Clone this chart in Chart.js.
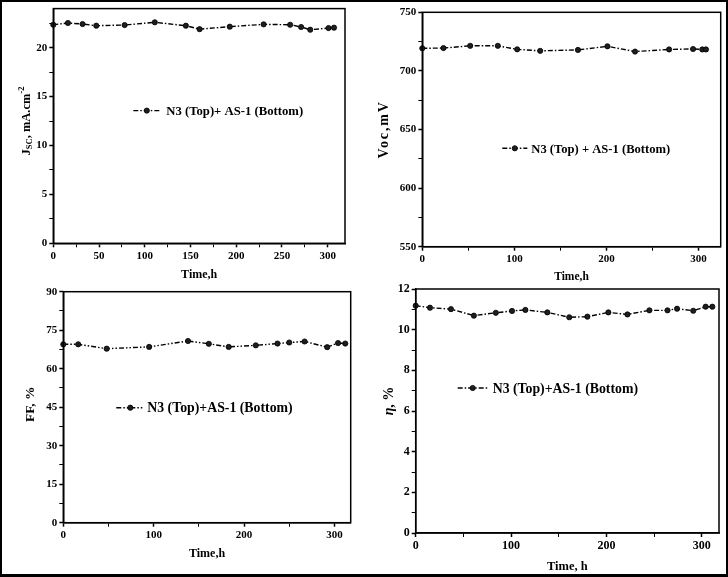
<!DOCTYPE html>
<html><head><meta charset="utf-8">
<script src="https://cdn.jsdelivr.net/npm/chart.js@4.4.0/dist/chart.umd.min.js"></script>
<style>
html,body{margin:0;padding:0;background:#fff;}
#page{position:relative;width:728px;height:577px;overflow:hidden;background:#fff;}
#frame{position:absolute;left:0;top:0;width:728px;height:577px;box-sizing:border-box;border:2px solid #000;border-bottom-width:3px;pointer-events:none;z-index:5}
canvas{position:absolute;}
</style></head><body>
<div id="page">
<canvas id="c1"></canvas>
<canvas id="c2"></canvas>
<canvas id="c3"></canvas>
<canvas id="c4"></canvas>
<div id="frame"></div>
</div>
<script>
// ---------- data ----------
const jscTime  = [0, 16, 32, 47, 78, 111, 145, 160, 193, 230, 259, 271, 281, 301, 307];
const jscValue = [22.35, 22.53, 22.42, 22.25, 22.32, 22.6, 22.25, 21.9, 22.15, 22.39, 22.35, 22.12, 21.84, 22.01, 22.05];
const vocTime  = [0, 23, 52, 82, 103, 128, 169, 201, 231, 268, 294, 304, 308];
const vocValue = [719.3, 719.5, 721.4, 721.4, 718.4, 717.1, 717.9, 721.0, 716.5, 718.3, 718.7, 718.3, 718.3];
const ffTime   = [0, 16.5, 48, 95, 138, 161, 183, 213, 237, 250, 267, 292, 304, 312];
const ffValue  = [69.5, 69.5, 67.8, 68.5, 70.8, 69.7, 68.5, 69.1, 69.8, 70.2, 70.6, 68.4, 70.0, 69.8];
const etaTime  = [0, 15, 37, 61, 84, 101, 115, 138, 161, 180, 202, 222, 245, 264, 274, 291, 304, 311];
const etaValue = [11.18, 11.08, 11.01, 10.69, 10.83, 10.92, 10.97, 10.85, 10.61, 10.64, 10.85, 10.75, 10.95, 10.95, 11.03, 10.93, 11.13, 11.13];

const jscXTicks = [0, 50, 100, 150, 200, 250, 300];
const jscYTicks = [0, 5, 10, 15, 20];
const vocXTicks = [0, 100, 200, 300];
const vocYTicks = [550, 600, 650, 700, 750];
const ffXTicks  = [0, 100, 200, 300];
const ffYTicks  = [0, 15, 30, 45, 60, 75, 90];
const etaXTicks = [0, 100, 200, 300];
const etaYTicks = [0, 2, 4, 6, 8, 10, 12];

const legendJsc = 'N3 (Top)+ AS-1 (Bottom)';
const legendVoc = 'N3 (Top) + AS-1 (Bottom)';
const legendFF  = 'N3 (Top)+AS-1 (Bottom)';
const legendEta = 'N3 (Top)+AS-1 (Bottom)';

// ---------- helpers ----------
const FAMILY = '"Liberation Serif", "Times New Roman", serif';
const isIn = (arr, v) => arr.some(m => Math.abs(m - v) < 1e-6);

const framePlugin = {
  id: 'frameBox',
  afterDatasetsDraw(chart) {
    const a = chart.chartArea, ctx = chart.ctx;
    ctx.save();
    ctx.strokeStyle = '#000';
    ctx.lineWidth = 1.5;
    ctx.setLineDash([]);
    ctx.strokeRect(a.left, a.top, a.right - a.left, a.bottom - a.top);
    ctx.restore();
  }
};

function drawSegments(ctx, segs, cx, cy, spacing) {
  let total = 0;
  const widths = segs.map(s => {
    ctx.font = (s.italic ? 'italic ' : '') + 'bold ' + s.size + 'px ' + FAMILY;
    ctx.letterSpacing = (spacing || 0) + 'px';
    const w = ctx.measureText(s.text).width;
    total += w;
    return w;
  });
  let x = cx - total / 2;
  segs.forEach((s, i) => {
    ctx.font = (s.italic ? 'italic ' : '') + 'bold ' + s.size + 'px ' + FAMILY;
    ctx.letterSpacing = (spacing || 0) + 'px';
    ctx.fillText(s.text, x, cy + (s.dy || 0));
    x += widths[i];
  });
  ctx.letterSpacing = '0px';
}

const titlePlugin = {
  id: 'axisTitles',
  afterDraw(chart, args, opts) {
    const a = chart.chartArea, ctx = chart.ctx;
    ctx.save();
    ctx.fillStyle = '#000';
    ctx.textAlign = 'left';
    ctx.textBaseline = 'middle';
    drawSegments(ctx, opts.x.segments, (a.left + a.right) / 2 + (opts.x.shift || 0), a.bottom + opts.x.offset, opts.x.spacing);
    ctx.translate(a.left - opts.y.offset, (a.top + a.bottom) / 2 + (opts.y.shift || 0));
    ctx.rotate(-Math.PI / 2);
    drawSegments(ctx, opts.y.segments, 0, 0, opts.y.spacing);
    ctx.restore();
  }
};

const legendPlugin = {
  id: 'innerLegend',
  afterDraw(chart, args, opts) {
    const a = chart.chartArea, ctx = chart.ctx;
    const ds = chart.data.datasets[0];
    const x0 = a.left + opts.dx, y = a.top + opts.dy;
    ctx.save();
    ctx.strokeStyle = '#000';
    ctx.lineWidth = ds.borderWidth;
    ctx.setLineDash(ds.borderDash);
    ctx.beginPath();
    ctx.moveTo(x0, y);
    ctx.lineTo(x0 + opts.len, y);
    ctx.stroke();
    ctx.setLineDash([]);
    ctx.beginPath();
    ctx.arc(x0 + opts.len / 2, y, ds.pointRadius, 0, Math.PI * 2);
    ctx.fillStyle = ds.pointBackgroundColor;
    ctx.fill();
    ctx.lineWidth = ds.pointBorderWidth;
    ctx.stroke();
    ctx.fillStyle = '#000';
    ctx.font = 'bold ' + opts.size + 'px ' + FAMILY;
    ctx.textAlign = 'left';
    ctx.textBaseline = 'middle';
    ctx.fillText(ds.label, x0 + opts.len + opts.gap, y + 1);
    ctx.restore();
  }
};

function makeChart(id, c) {
  const cv = document.getElementById(id);
  cv.width = c.box.w; cv.height = c.box.h;
  cv.style.left = c.box.x + 'px'; cv.style.top = c.box.y + 'px';
  cv.style.width = c.box.w + 'px'; cv.style.height = c.box.h + 'px';
  const tickFont = { family: FAMILY, size: c.tickSize, weight: 'bold' };
  const axis = (majors, min, max, step, fitFn) => ({
    type: 'linear', min: min, max: max,
    ticks: {
      stepSize: step, includeBounds: false, autoSkip: false, maxRotation: 0,
      color: '#000', font: tickFont, padding: 2,
      callback: v => isIn(majors, v) ? String(v) : ''
    },
    grid: {
      drawOnChartArea: false, tickLength: 4, color: '#000',
      tickColor: '#000',
      tickWidth: ctx => (ctx.tick && isIn(majors, ctx.tick.value)) ? 1.5 : 1
    },
    border: { display: true, color: '#000', width: 1.5 },
    afterFit: fitFn
  });
  return new Chart(cv, {
    type: 'line',
    data: {
      datasets: [{
        label: c.label,
        data: c.time.map((t, i) => ({ x: t, y: c.value[i] })),
        borderColor: '#000', borderWidth: 1.4, borderDash: c.dash,
        pointRadius: 2.6, pointBackgroundColor: '#1e1e1e', pointBorderColor: '#000', pointBorderWidth: 0.8,
        tension: 0, fill: false, clip: false
      }]
    },
    options: {
      responsive: false, animation: false, maintainAspectRatio: false,
      layout: { padding: { top: c.plot.t - c.box.y, right: c.box.x + c.box.w - c.plot.r, left: 0, bottom: 0 } },
      events: [],
      plugins: {
        legend: { display: false }, tooltip: { enabled: false },
        axisTitles: c.titles,
        innerLegend: c.legend
      },
      scales: {
        x: axis(c.xMajor, c.xMin, c.xMax, c.xStep, s => { s.height = c.box.y + c.box.h - c.plot.b; }),
        y: axis(c.yMajor, c.yMin, c.yMax, c.yStep, s => { s.width = c.plot.l - c.box.x; })
      }
    },
    plugins: [framePlugin, titlePlugin, legendPlugin]
  });
}

makeChart('c1', {
  box: { x: 0, y: 0, w: 364, h: 290 }, plot: { l: 53.3, t: 8.3, r: 345, b: 243.3 },
  time: jscTime, value: jscValue, label: legendJsc, dash: [5, 2, 1.5, 2],
  xMin: 0, xMax: 319, xStep: 25, xMajor: jscXTicks,
  yMin: 0, yMax: 24, yStep: 2.5, yMajor: jscYTicks, tickSize: 11,
  titles: {
    x: { segments: [{ text: 'Time,h', size: 12 }], offset: 32 },
    y: { segments: [{ text: 'J', size: 12.5 }, { text: 'SC', size: 8.5, dy: 3 }, { text: ', mA.cm', size: 12.5 }, { text: '-2', size: 8.5, dy: -5 }], offset: 27, shift: -5 }
  },
  legend: { dx: 80, dy: 102, len: 27, gap: 6, size: 12.7 }
});

makeChart('c2', {
  box: { x: 364, y: 0, w: 364, h: 290 }, plot: { l: 422.3, t: 12.3, r: 720.7, b: 246.7 },
  time: vocTime, value: vocValue, label: legendVoc, dash: [5, 2, 1.5, 2],
  xMin: 0, xMax: 324, xStep: 50, xMajor: vocXTicks,
  yMin: 550, yMax: 750, yStep: 25, yMajor: vocYTicks, tickSize: 11,
  titles: {
    x: { segments: [{ text: 'Time,h', size: 11.5 }], offset: 30 },
    y: { segments: [{ text: 'Voc,mV', size: 14 }], offset: 38, shift: 0, spacing: 1.8 }
  },
  legend: { dx: 80, dy: 136, len: 25, gap: 4, size: 12.6 }
});

makeChart('c3', {
  box: { x: 0, y: 278, w: 364, h: 299 }, plot: { l: 63.3, t: 291.7, r: 350.7, b: 522.7 },
  time: ffTime, value: ffValue, label: legendFF, dash: [5, 2, 1.5, 2, 1.5, 2],
  xMin: 0, xMax: 318, xStep: 50, xMajor: ffXTicks,
  yMin: 0, yMax: 90, yStep: 7.5, yMajor: ffYTicks, tickSize: 11,
  titles: {
    x: { segments: [{ text: 'Time,h', size: 12 }], offset: 31.6 },
    y: { segments: [{ text: 'FF, %', size: 13.5 }], offset: 32.5, shift: -3 }
  },
  legend: { dx: 53, dy: 116, len: 28, gap: 3, size: 13.8 }
});

makeChart('c4', {
  box: { x: 364, y: 278, w: 364, h: 299 }, plot: { l: 415.7, t: 289, r: 719, b: 533 },
  time: etaTime, value: etaValue, label: legendEta, dash: [5, 2, 1.5, 2],
  xMin: 0, xMax: 318, xStep: 50, xMajor: etaXTicks,
  yMin: 0, yMax: 12, yStep: 1, yMajor: etaYTicks, tickSize: 12,
  titles: {
    x: { segments: [{ text: 'Time, h', size: 12.5 }], offset: 34 },
    y: { segments: [{ text: 'η', size: 14, italic: true }, { text: ', %', size: 14 }], offset: 26, shift: -10 }
  },
  legend: { dx: 42, dy: 99, len: 30, gap: 5, size: 13.8 }
});
</script>
</body></html>
